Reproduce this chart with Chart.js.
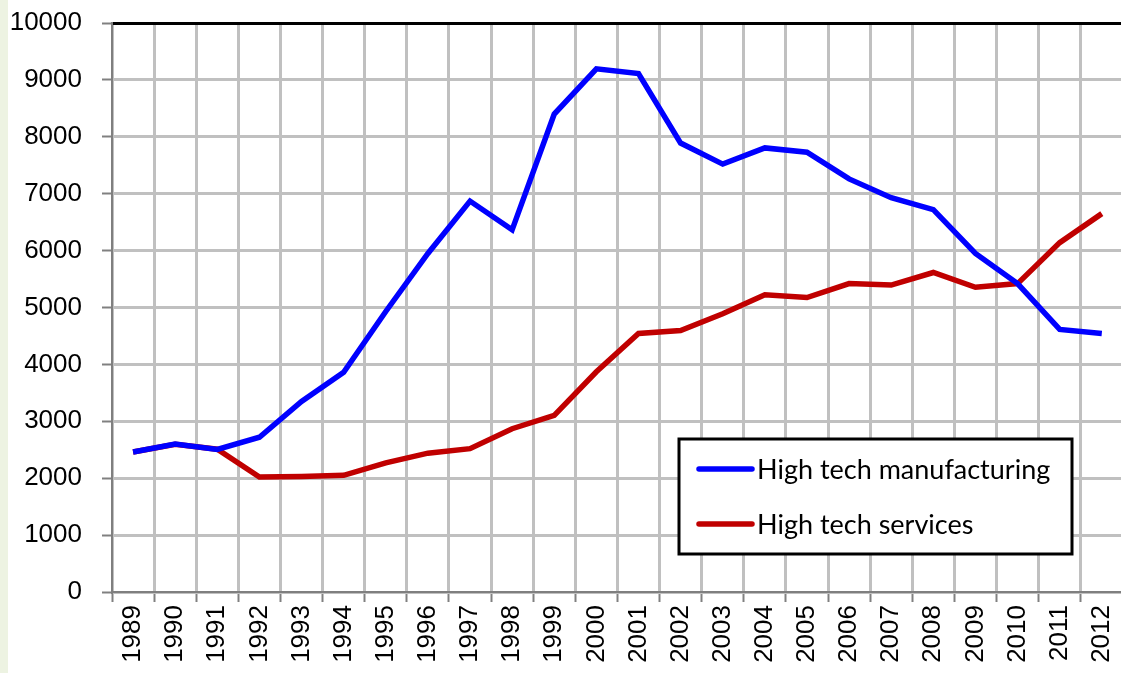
<!DOCTYPE html>
<html>
<head>
<meta charset="utf-8">
<script src="https://cdn.jsdelivr.net/npm/chart.js@4"></script>
<style>
  html, body { margin: 0; padding: 0; overflow: hidden; background: #fff; }
  #wrap {
    position: relative; width: 1121px; height: 673px; overflow: hidden;
    background: linear-gradient(to right, #edf3e2 0, #edf3e2 8px, #fff 8px);
  }
  canvas { display: block; }
</style>
</head>
<body>
<div id="wrap"><canvas id="chart" width="1136" height="673"></canvas></div>
<script>
const years = ["1989", "1990", "1991", "1992", "1993", "1994", "1995", "1996",
  "1997", "1998", "1999", "2000", "2001", "2002", "2003", "2004", "2005",
  "2006", "2007", "2008", "2009", "2010", "2011", "2012"];

const manufacturing = [2460, 2600, 2505, 2720, 3350, 3860, 4930, 5950, 6870,
  6365, 8400, 9195, 9110, 7890, 7520, 7805, 7730, 7260, 6930, 6720, 5950,
  5420, 4615, 4545];

const services = [2460, 2595, 2510, 2020, 2030, 2050, 2270, 2440, 2520, 2870,
  3105, 3870, 4545, 4595, 4890, 5225, 5175, 5420, 5395, 5615, 5355, 5420,
  6140, 6650];

const yMax = 10000;
const yStep = 1000;

// boxed legend drawn inside the plot, like the spreadsheet original
const boxLegend = {
  id: "boxLegend",
  afterDraw(chart) {
    const c = chart.ctx;
    const x = 679, y = 439, w = 393, h = 115;
    c.save();
    c.fillStyle = "#fff";
    c.fillRect(x, y, w, h);
    c.lineWidth = 3;
    c.strokeStyle = "#000";
    c.strokeRect(x, y, w, h);
    c.font = "27px Lato, 'Open Sans', sans-serif";
    c.textBaseline = "middle";
    c.lineCap = "round";
    chart.data.datasets.forEach((ds, i) => {
      const cy = y + 30 + i * 55;
      c.strokeStyle = ds.borderColor;
      c.lineWidth = 5.5;
      c.beginPath();
      c.moveTo(x + 20, cy);
      c.lineTo(x + 73, cy);
      c.stroke();
      c.fillStyle = "#000";
      c.fillText(ds.label, x + 78, cy + 1);
    });
    c.restore();
  }
};

const tickFont = { family: "'Liberation Sans', Arial, sans-serif", size: 26 };

new Chart(document.getElementById("chart"), {
  type: "line",
  data: {
    labels: years,
    datasets: [
      {
        label: "High tech manufacturing",
        data: manufacturing,
        borderColor: "#0000ff",
        backgroundColor: "#0000ff",
        borderWidth: 5.5,
        pointRadius: 0,
        tension: 0
      },
      {
        label: "High tech services",
        data: services,
        borderColor: "#c00000",
        backgroundColor: "#c00000",
        borderWidth: 5.5,
        pointRadius: 0,
        tension: 0
      }
    ]
  },
  options: {
    responsive: false,
    animation: false,
    layout: { padding: { top: 23, right: 0, left: 8, bottom: 0 } },
    plugins: { legend: { display: false }, tooltip: { enabled: false } },
    scales: {
      x: {
        type: "category",
        offset: true,
        afterFit: (s) => { s.height = 81; },
        grid: {
          offset: true,
          color: "#c0c0c0",
          lineWidth: 3,
          tickColor: "#808080",
          tickWidth: 2,
          tickLength: 10
        },
        border: { color: "#7f7f7f", width: 2 },
        ticks: {
          minRotation: 90,
          maxRotation: 90,
          autoSkip: false,
          padding: 3,
          color: "#000",
          font: tickFont
        }
      },
      y: {
        min: 0,
        max: yMax,
        // label padding would otherwise push the plot top down
        afterFit: (s) => { s.width = 104; s.paddingTop = 12; s.paddingBottom = 12; },
        grid: {
          color: (ctx) => (ctx.tick && ctx.tick.value === yMax ? "#000" : "#c0c0c0"),
          lineWidth: 3,
          tickColor: "#808080",
          tickWidth: 2,
          tickLength: 10
        },
        border: { color: "#7f7f7f", width: 2 },
        ticks: {
          stepSize: yStep,
          padding: 20,
          color: "#000",
          font: tickFont,
          callback: (v) => String(v)
        }
      }
    }
  },
  plugins: [boxLegend]
});
</script>
</body>
</html>
